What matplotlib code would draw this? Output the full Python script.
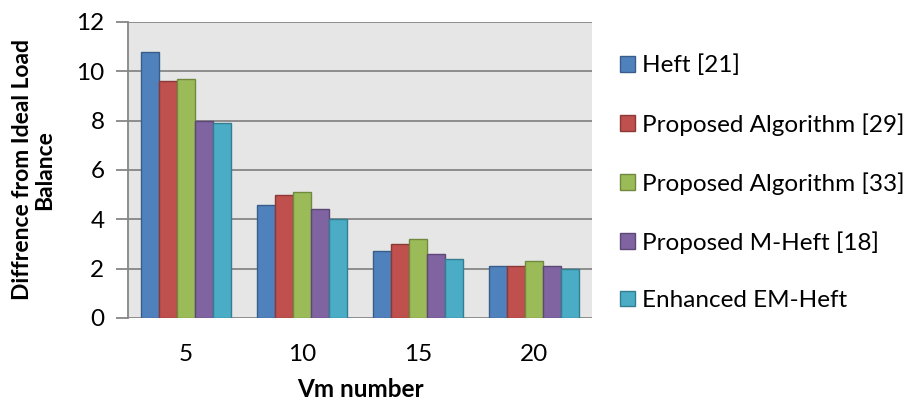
import matplotlib.pyplot as plt
import numpy as np
from matplotlib.patches import Patch

plt.rcParams["font.family"] = ["Lato", "DejaVu Sans"]

vm_numbers = ["5", "10", "15", "20"]
series_names = [
    "Heft [21]",
    "Proposed Algorithm [29]",
    "Proposed Algorithm [33]",
    "Proposed M-Heft [18]",
    "Enhanced EM-Heft",
]
heft = [10.8, 4.6, 2.7, 2.1]
proposed_29 = [9.6, 5.0, 3.0, 2.1]
proposed_33 = [9.7, 5.1, 3.2, 2.3]
m_heft = [8.0, 4.4, 2.6, 2.1]
em_heft = [7.9, 4.0, 2.4, 2.0]

face_colors = ["#4F81BD", "#C0504D", "#9BBB59", "#8064A2", "#4BACC6"]
edge_colors = ["#385D8A", "#8C3836", "#71893F", "#5C4776", "#357D91"]

fig = plt.figure(figsize=(9.1, 4.03), dpi=100)
ax = fig.add_axes([128 / 910, 85 / 403, 464 / 910, 296 / 403])
ax.set_facecolor("#E6E6E6")

x = np.arange(len(vm_numbers))
width = 0.155
all_series = [heft, proposed_29, proposed_33, m_heft, em_heft]
for i, vals in enumerate(all_series):
    offset = (i - 2) * width
    ax.bar(x + offset, vals, width, color=face_colors[i], edgecolor=edge_colors[i],
           linewidth=1.0, zorder=3)

ax.set_xlim(-0.5, 3.5)
ax.set_ylim(0, 12)
ax.set_yticks(range(0, 13, 2))
ax.yaxis.grid(True, color="#868686", linewidth=1.3, zorder=1)
ax.set_axisbelow(True)

for side in ("top", "right", "bottom"):
    ax.spines[side].set_visible(False)
ax.spines["left"].set_color("#868686")
ax.spines["left"].set_linewidth(1.3)

ax.set_xticks(x)
ax.set_xticklabels(vm_numbers)
ax.tick_params(axis="x", length=0, pad=19, labelsize=17.5)
ax.tick_params(axis="y", length=9, width=1.3, color="#868686", pad=8, labelsize=17.5)

ax.set_xlabel("Vm number", fontsize=17.5, fontweight="bold", labelpad=9)
ax.set_ylabel("Diffrence from Ideal Load\nBalance", fontsize=16.5, fontweight="bold",
              labelpad=15, linespacing=1.05)

handles = [Patch(facecolor=face_colors[i], edgecolor=edge_colors[i], label=series_names[i])
           for i in range(len(series_names))]
fig.legend(handles=handles, loc="center left", bbox_to_anchor=(598 / 910, 0.546),
           frameon=False, fontsize=17.5, handlelength=0.62, handleheight=0.62,
           handletextpad=0.3, labelspacing=1.5)

fig.savefig("out.png", dpi=100)
